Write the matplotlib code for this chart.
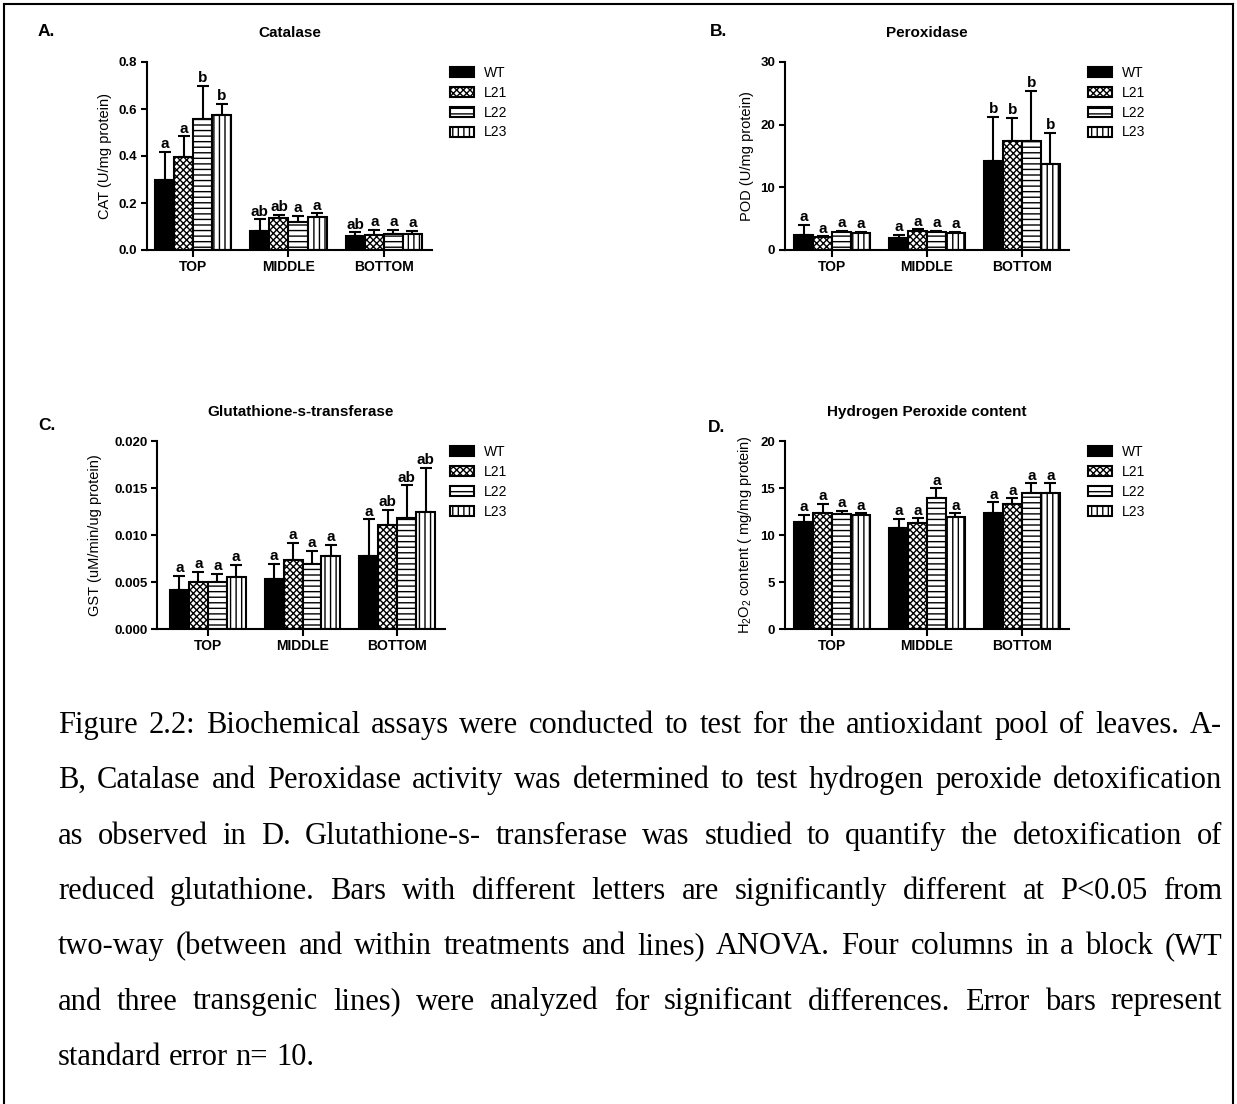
import matplotlib.pyplot as plt
from matplotlib.lines import Line2D
import numpy as np

plt.rcParams['font.family'] = 'Liberation Sans'
plt.rcParams['hatch.linewidth'] = 1.0
plt.rcParams['mathtext.default'] = 'regular'

W, H = 1237, 1104

positions = ['TOP', 'MIDDLE', 'BOTTOM']
lines = ['WT', 'L21', 'L22', 'L23']
hatches = ['', 'xxxxx', '---', '|||']
faces = ['black', 'white', 'white', 'white']

# rows = WT, L21, L22, L23 ; columns = TOP, MIDDLE, BOTTOM
cat_mean = [[0.300, 0.082, 0.059], [0.394, 0.135, 0.064], [0.559, 0.118, 0.068], [0.573, 0.142, 0.067]]
cat_se = [[0.118, 0.048, 0.016], [0.090, 0.014, 0.021], [0.139, 0.026, 0.017], [0.050, 0.014, 0.015]]
cat_letters = [['a', 'ab', 'ab'], ['a', 'ab', 'a'], ['b', 'a', 'a'], ['b', 'a', 'a']]

pod_mean = [[2.39, 1.86, 14.18], [2.0, 3.0, 17.4], [2.8, 2.8, 17.4], [2.7, 2.7, 13.7]]
pod_se = [[1.59, 0.54, 7.02], [0.2, 0.3, 3.7], [0.3, 0.3, 8.0], [0.2, 0.2, 5.0]]
pod_letters = [['a', 'a', 'b'], ['a', 'a', 'b'], ['a', 'a', 'b'], ['a', 'a', 'b']]

gst_mean = [[0.00417, 0.0053, 0.00777], [0.00495, 0.00735, 0.01106], [0.00502, 0.00689, 0.01184], [0.00548, 0.00781, 0.01244]]
gst_se = [[0.00148, 0.00163, 0.00389], [0.00113, 0.00184, 0.00159], [0.00085, 0.00141, 0.00343], [0.00134, 0.00113, 0.0047]]
gst_letters = [['a', 'a', 'a'], ['a', 'a', 'ab'], ['a', 'a', 'ab'], ['a', 'a', 'ab']]

h2o2_mean = [[11.41, 10.71, 12.37], [12.30, 11.31, 13.25], [12.19, 13.96, 14.49], [12.12, 11.94, 14.49]]
h2o2_se = [[0.71, 0.99, 1.09], [0.99, 0.46, 0.64], [0.39, 0.99, 0.99], [0.18, 0.36, 0.99]]
h2o2_letters = [['a', 'a', 'a'], ['a', 'a', 'a'], ['a', 'a', 'a'], ['a', 'a', 'a']]

caption_lines = [
    "Figure 2.2: Biochemical assays were conducted to test for the antioxidant pool of leaves. A-",
    "B, Catalase and Peroxidase activity was determined to test hydrogen peroxide detoxification",
    "as observed in D. Glutathione-s- transferase was studied to quantify the detoxification of",
    "reduced glutathione. Bars with different letters are significantly different at P<0.05 from",
    "two-way (between and within treatments and lines) ANOVA. Four columns in a block (WT",
    "and three transgenic lines) were analyzed for significant differences. Error bars represent",
    "standard error n= 10.",
]


def rect(l, r, t, b):
    return [l / W, 1 - b / H, (r - l) / W, (b - t) / H]


def panel(fig, box, xlim, means, ses, letters, yticks, fmt, ylabel, ylab_x,
          title, tag, tag_xy, leg_xy):
    ax = fig.add_axes(rect(*box))
    x = np.arange(len(positions))
    w = 0.2
    handles = []
    for i in range(len(lines)):
        xi = x + (i - 1.5) * w
        b = ax.bar(xi, means[i], w, color=faces[i], edgecolor='black',
                   hatch=hatches[i], linewidth=1.5, label=lines[i], zorder=2)
        handles.append(b)
        ax.errorbar(xi, means[i], yerr=[np.zeros(3), ses[i]], fmt='none',
                    ecolor='black', elinewidth=1.5, capsize=4.5, capthick=1.5, zorder=1)
        for xx, m, s, let in zip(xi, means[i], ses[i], letters[i]):
            ax.annotate(let, (xx, m + s), xytext=(0, 0.5), textcoords='offset points',
                        ha='center', va='bottom', fontsize=11, fontweight='bold')
    ax.set_xlim(*xlim)
    ax.set_ylim(yticks[0], yticks[-1])
    ax.set_yticks(yticks)
    ax.set_yticklabels([fmt.format(v) for v in yticks])
    ax.set_xticks(x)
    ax.set_xticklabels(positions)
    for s in ['top', 'right']:
        ax.spines[s].set_visible(False)
    for s in ['left', 'bottom']:
        ax.spines[s].set_linewidth(1.5)
    ax.tick_params(axis='y', direction='out', length=4, width=1.5, labelsize=9.5, pad=3)
    ax.tick_params(axis='x', direction='inout', length=10, width=1.5, labelsize=10, pad=2)
    for lab in ax.get_xticklabels() + ax.get_yticklabels():
        lab.set_fontweight('bold')
    l, r, t, b = box
    fig.text(ylab_x / W, 1 - (t + b) / 2 / H, ylabel, rotation=90, ha='center',
             va='center', fontsize=10.5)
    fig.text((l + r) / 2 / W, 1 - (t - 29) / H, title, ha='center', va='center',
             fontsize=11, fontweight='bold')
    fig.text(tag_xy[0] / W, 1 - tag_xy[1] / H, tag, ha='left', va='center',
             fontsize=12.5, fontweight='bold')
    ax.legend(handles, lines, loc='upper left', bbox_to_anchor=(leg_xy[0] / W, 1 - leg_xy[1] / H),
              bbox_transform=fig.transFigure, frameon=False, fontsize=10,
              handlelength=1.7, handleheight=0.7, labelspacing=0.42,
              handletextpad=0.75, borderpad=0, borderaxespad=0)
    return ax


fig = plt.figure(figsize=(W / 100, H / 100), dpi=100)

panel(fig, (147, 432, 62, 250), (-0.484, 2.505), cat_mean, cat_se, cat_letters,
      [0.0, 0.2, 0.4, 0.6, 0.8], '{:.1f}', 'CAT (U/mg protein)', 105,
      'Catalase', 'A.', (38, 31), (450, 66))
panel(fig, (785, 1069, 62, 250), (-0.495, 2.495), pod_mean, pod_se, pod_letters,
      [0, 10, 20, 30], '{:d}', 'POD (U/mg protein)', 747,
      'Peroxidase', 'B.', (710, 31), (1088, 66))
panel(fig, (157, 445, 441, 629), (-0.537, 2.505), gst_mean, gst_se, gst_letters,
      [0.0, 0.005, 0.010, 0.015, 0.020], '{:.3f}', 'GST (uM/min/ug protein)', 95,
      'Glutathione-s-transferase', 'C.', (38, 425), (450, 445))
panel(fig, (785, 1069, 441, 629), (-0.495, 2.495), h2o2_mean, h2o2_se, h2o2_letters,
      [0, 5, 10, 15, 20], '{:d}', 'H$_2$O$_2$ content ( mg/mg protein)', 745,
      'Hydrogen Peroxide content', 'D.', (708, 427), (1088, 445))

# page frame
fig.add_artist(Line2D([4 / W, 4 / W], [0, 1 - 4 / H], color='black', lw=1.5))
fig.add_artist(Line2D([4 / W, 1233 / W], [1 - 4 / H, 1 - 4 / H], color='black', lw=1.5))
fig.add_artist(Line2D([1233 / W, 1233 / W], [0, 1 - 4 / H], color='black', lw=1.5))

# justified caption
renderer = fig.canvas.get_renderer()
x_left, x_right = 58, 1222
fs = 22
for i, line in enumerate(caption_lines):
    y = 1 - (733 + 55.3 * i) / H
    words = line.split(' ')
    texts = [fig.text(0, y, wd, fontsize=fs, family='Liberation Serif', va='baseline')
             for wd in words]
    widths = [t.get_window_extent(renderer).width for t in texts]
    if i == len(caption_lines) - 1:
        gap = 0.25 * fs * 100 / 72
    else:
        gap = (x_right - x_left - sum(widths)) / (len(words) - 1)
    xx = x_left
    for t, wd in zip(texts, widths):
        t.set_x(xx / W)
        xx += wd + gap

fig.savefig('out.png', dpi=100)
